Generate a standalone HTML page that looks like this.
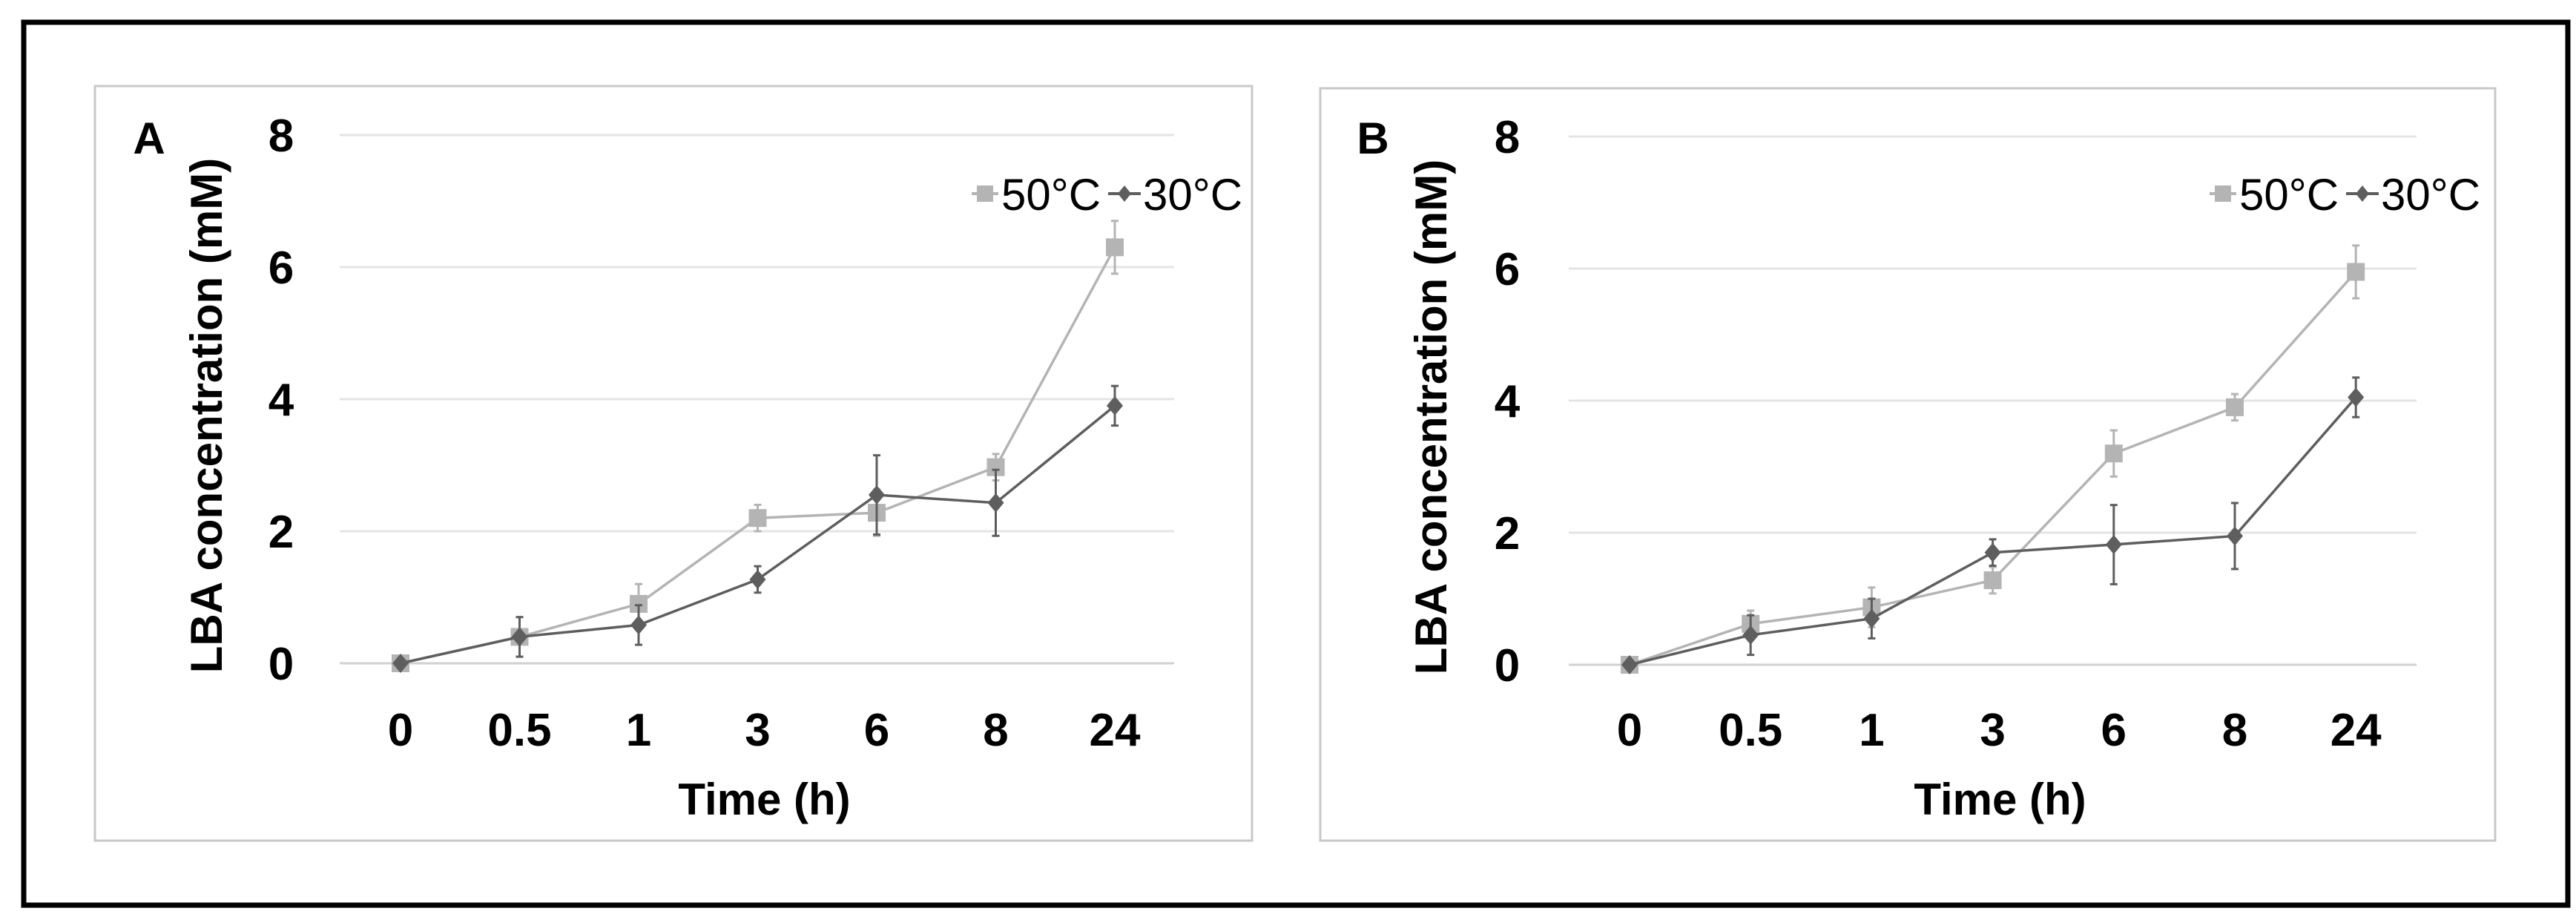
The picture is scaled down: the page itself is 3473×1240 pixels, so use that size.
<!DOCTYPE html>
<html><head><meta charset="utf-8"><style>
html,body{margin:0;padding:0;background:#fff;}
svg{display:block;font-family:"Liberation Sans",sans-serif;}
</style></head><body>
<svg id="fig" width="3473" height="1240" viewBox="0 0 3473 1240" xmlns="http://www.w3.org/2000/svg">
<rect x="32" y="30" width="3430" height="1190" fill="#fff" stroke="#000" stroke-width="7"/>
</svg>
<script>
const categories = ["0","0.5","1","3","6","8","24"];
const yTicks = [0,2,4,6,8];
const a50 = [0,0.4,0.9,2.2,2.28,2.97,6.3];
const a50err = [0,0.3,0.3,0.2,0.35,0.2,0.4];
const a30 = [0,0.4,0.58,1.27,2.55,2.43,3.9];
const a30err = [0,0.3,0.3,0.2,0.6,0.5,0.3];
const b50 = [0,0.62,0.87,1.28,3.2,3.9,5.95];
const b50err = [0,0.2,0.3,0.2,0.35,0.2,0.4];
const b30 = [0,0.45,0.7,1.7,1.82,1.95,4.05];
const b30err = [0,0.3,0.3,0.2,0.6,0.5,0.3];

const NS="http://www.w3.org/2000/svg";
const svg=document.getElementById('fig');
function mk(tag,attrs,parent){const e=document.createElementNS(NS,tag);for(const k in attrs)e.setAttribute(k,attrs[k]);(parent||svg).appendChild(e);return e;}

function panel(cfg){
  const g=mk('g',{});
  
  
  const fr=mk('rect',{x:cfg.px,y:cfg.py,width:cfg.pw,height:cfg.ph,fill:'#fff',stroke:'#c8c8c8','stroke-width':3},g);
  
  
  const yS=v=>cfg.y0+(cfg.y8-cfg.y0)*v/8;
  const xS=i=>cfg.x0+i*cfg.dx;
  yTicks.forEach(t=>{
    const l=mk('line',{x1:cfg.plotL,x2:cfg.plotR,y1:yS(t),y2:yS(t),stroke:t===0?'#d0d0d0':'#e4e4e4','stroke-width':3},g);
    
    
    const tx=mk('text',{x:cfg.ytx,y:yS(t)+22,'text-anchor':'middle','font-size':62,'font-weight':'bold',fill:'#000'},g);
    tx.textContent=t;
    
    
  });
  categories.forEach((c,i)=>{
    const tx=mk('text',{x:xS(i),y:1005,'text-anchor':'middle','font-size':62,'font-weight':'bold',fill:'#000'},g);
    tx.textContent=c;
    
    
  });
  const xt=mk('text',{x:(cfg.plotL+cfg.plotR)/2+10,y:1098,'text-anchor':'middle','font-size':60,'font-weight':'bold'},g);
  xt.textContent='Time (h)';
  
  
  const yc=(cfg.y0+cfg.y8)/2+22;
  const yt=mk('text',{x:cfg.ytitle,y:yc,'text-anchor':'middle','font-size':60,'font-weight':'bold',transform:`rotate(-90 ${cfg.ytitle} ${yc})`,dy:20},g);
  yt.textContent='LBA concentration (mM)';
  
  
  const lt=mk('text',{x:cfg.letterX,y:207,'text-anchor':'middle','font-size':60,'font-weight':'bold'},g);
  lt.textContent=cfg.id.toUpperCase();
  
  
  const series=[{v:cfg.s50,e:cfg.e50,c:'#b4b4b4',m:'sq',n:'50c'},{v:cfg.s30,e:cfg.e30,c:'#5e5e5e',m:'dm',n:'30c'}];
  series.forEach(s=>{
    const eg=mk('g',{},g);
    
    
    s.v.forEach((v,i)=>{
      if(!s.e[i])return;
      const x=xS(i),t=yS(v+s.e[i]),b=yS(v-s.e[i]);
      mk('line',{x1:x,x2:x,y1:t,y2:b,stroke:s.c,'stroke-width':3},eg);
      mk('line',{x1:x-5,x2:x+5,y1:t,y2:t,stroke:s.c,'stroke-width':3},eg);
      mk('line',{x1:x-5,x2:x+5,y1:b,y2:b,stroke:s.c,'stroke-width':3},eg);
    });
    const pl=mk('polyline',{points:s.v.map((v,i)=>xS(i)+','+yS(v)).join(' '),fill:'none',stroke:s.c,'stroke-width':3.5},g);
    
    
    s.v.forEach((v,i)=>{
      const x=xS(i),y=yS(v);
      let m;
      if(s.m==='sq') m=mk('rect',{x:x-12,y:y-12,width:24,height:24,fill:s.c},g);
      else m=mk('polygon',{points:`${x},${y-13} ${x+11},${y} ${x},${y+13} ${x-11},${y}`,fill:s.c},g);
      
      
    });
  });
  const lg=mk('g',{},g);
  
  
  const ly=261;
  mk('line',{x1:cfg.lx-18,x2:cfg.lx+18,y1:ly,y2:ly,stroke:'#b4b4b4','stroke-width':4},lg);
  mk('rect',{x:cfg.lx-11,y:ly-11,width:22,height:22,fill:'#b4b4b4'},lg);
  const t1=mk('text',{x:cfg.lx+22,y:ly+22,'font-size':60},lg);t1.textContent='50°C';
  
  
  const dx=cfg.lx+188;
  mk('line',{x1:dx-22,x2:dx+22,y1:ly,y2:ly,stroke:'#5e5e5e','stroke-width':4},lg);
  mk('polygon',{points:`${dx},${ly-11} ${dx+9},${ly} ${dx},${ly+11} ${dx-9},${ly}`,fill:'#5e5e5e'},lg);
  const t2=mk('text',{x:dx+25,y:ly+22,'font-size':60},lg);t2.textContent='30°C';
  
  
}
panel({id:'a',px:128,py:116,pw:1560,ph:1017,plotL:458,plotR:1583,y0:894,y8:182,x0:540,dx:160.5,ytx:379,ytitle:279,letterX:201,lx:1328,s50:a50,e50:a50err,s30:a30,e30:a30err});
panel({id:'b',px:1780,py:119,pw:1584,ph:1014,plotL:2115,plotR:3258,y0:896,y8:184,x0:2197,dx:163.2,ytx:2032,ytitle:1930,letterX:1851,lx:2997,s50:b50,e50:b50err,s30:b30,e30:b30err});
</script>
</body></html>
